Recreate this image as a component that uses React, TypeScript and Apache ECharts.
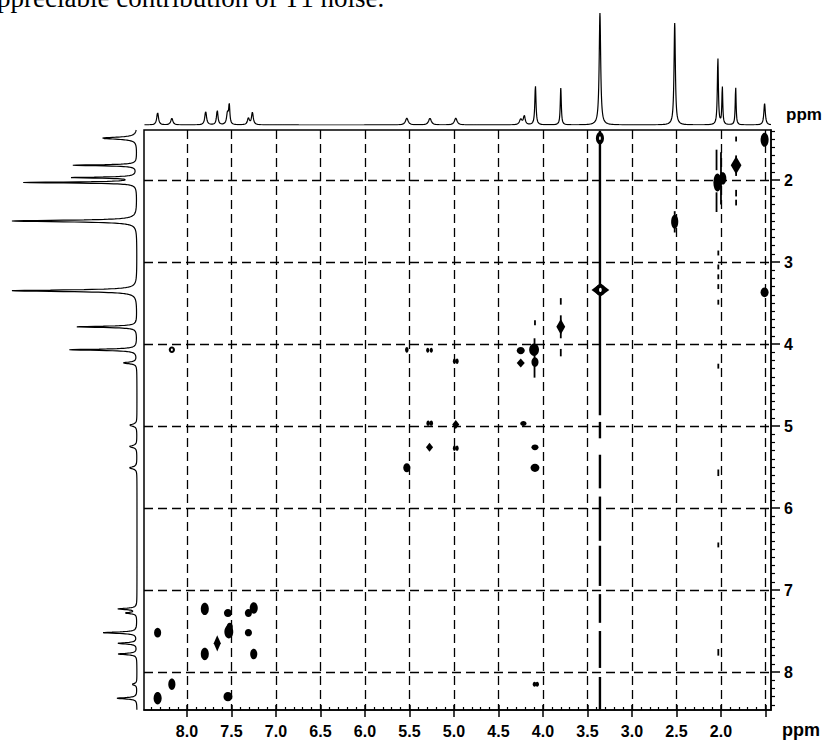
import React, { useEffect, useRef } from "react";
import * as echarts from "echarts";

// ---- axis ranges (ppm) ----
const X_MIN = 1.438;
const X_MAX = 8.483;
const Y_MIN = 1.39;
const Y_MAX = 8.463;

const xTickValues = [1.5, 2.0, 2.5, 3.0, 3.5, 4.0, 4.5, 5.0, 5.5, 6.0, 6.5, 7.0, 7.5, 8.0];
const xLabelValues = [2.0, 2.5, 3.0, 3.5, 4.0, 4.5, 5.0, 5.5, 6.0, 6.5, 7.0, 7.5, 8.0];
const yTickValues = [2, 3, 4, 5, 6, 7, 8];

// ---- 1D projections: [ppm, intensity (% of full scale), half width ppm] ----
const topPeaks: number[][] = [
  [8.33, 11, 0.012], [8.17, 6, 0.014], [7.79, 12, 0.012], [7.66, 13, 0.01],
  [7.545, 10, 0.012], [7.525, 17, 0.008], [7.31, 6, 0.012], [7.265, 11, 0.012],
  [5.53, 6, 0.018], [5.27, 6, 0.018], [4.98, 6, 0.018], [4.25, 5, 0.016],
  [4.21, 8, 0.012], [4.085, 35, 0.008], [3.8, 33, 0.007], [3.36, 100, 0.01],
  [2.52, 91, 0.009], [2.035, 60, 0.007], [1.985, 34, 0.006], [1.835, 34, 0.006],
  [1.51, 19, 0.01],
];

const leftPeaks: number[][] = [
  [1.49, 28, 0.015], [1.82, 51, 0.008], [1.97, 51, 0.008], [2.03, 90, 0.008],
  [2.5, 100, 0.012], [3.35, 100, 0.012], [3.79, 48, 0.009], [4.07, 54, 0.009],
  [4.23, 11, 0.012], [4.99, 6, 0.015], [5.25, 6, 0.015], [5.51, 6, 0.015],
  [7.23, 15, 0.01], [7.28, 9, 0.01], [7.52, 27, 0.01], [7.65, 15, 0.01],
  [7.78, 15, 0.01], [8.15, 4, 0.012], [8.32, 16, 0.01],
];

// ---- 2D cross peaks: [F2 ppm, F1 ppm, extent F2 ppm, extent F1 ppm] ----
const roundPeaks: number[][] = [
  [8.33, 7.52, 0.08, 0.12], [8.33, 8.32, 0.09, 0.15], [8.17, 8.15, 0.08, 0.14],
  [7.8, 7.23, 0.09, 0.15], [7.8, 7.78, 0.09, 0.15], [7.54, 7.28, 0.09, 0.1],
  [7.53, 7.51, 0.1, 0.16], [7.52, 7.45, 0.07, 0.1], [7.54, 8.3, 0.1, 0.11],
  [7.31, 7.28, 0.08, 0.1], [7.31, 7.52, 0.08, 0.09], [7.25, 7.22, 0.09, 0.14],
  [7.25, 7.78, 0.08, 0.13],
  [8.17, 4.07, 0.07, 0.08], [5.53, 4.07, 0.04, 0.07], [5.295, 4.075, 0.035, 0.06],
  [5.255, 4.075, 0.035, 0.06], [4.995, 4.21, 0.035, 0.065], [4.965, 4.21, 0.035, 0.065],
  [5.29, 4.965, 0.04, 0.065], [5.255, 4.965, 0.04, 0.065], [4.995, 5.27, 0.035, 0.065],
  [4.965, 5.27, 0.035, 0.065], [5.53, 5.51, 0.08, 0.11], [4.25, 4.08, 0.09, 0.09],
  [4.1, 4.07, 0.11, 0.15], [4.09, 4.22, 0.08, 0.12], [4.22, 4.97, 0.07, 0.06],
  [4.09, 5.26, 0.08, 0.07], [4.09, 5.51, 0.1, 0.1], [4.095, 8.15, 0.04, 0.06],
  [4.065, 8.15, 0.04, 0.06],
  [3.36, 1.49, 0.09, 0.15], [3.355, 3.34, 0.11, 0.14], [2.52, 2.51, 0.08, 0.17],
  [2.04, 2.03, 0.09, 0.22], [1.98, 1.98, 0.08, 0.15], [1.51, 1.51, 0.09, 0.17],
  [1.51, 3.37, 0.09, 0.12],
];

const diamondPeaks: number[][] = [
  [7.66, 7.65, 0.08, 0.2], [4.98, 4.98, 0.08, 0.11], [5.275, 5.26, 0.08, 0.11],
  [4.25, 4.23, 0.09, 0.11], [3.8, 3.79, 0.1, 0.19], [1.83, 1.82, 0.12, 0.22],
  [3.355, 3.34, 0.2, 0.16],
];

const holePeaks: number[][] = [
  [8.17, 4.07, 0.022, 0.03], [3.36, 1.49, 0.02, 0.045], [3.355, 3.34, 0.03, 0.05],
];

// ---- t1-noise streaks: [F2 ppm, F1 start, F1 end] ----
const mainStreak: number[][] = [
  [3.36, 1.4, 4.87], [3.36, 4.95, 5.15], [3.36, 5.35, 5.76], [3.36, 5.86, 6.4],
  [3.36, 6.46, 6.95], [3.36, 7.05, 7.4], [3.36, 7.5, 7.95], [3.36, 8.06, 8.46],
];

const minorStreaks: number[][] = [
  [2.05, 1.63, 1.88], [2.05, 2.15, 2.39], [2.0, 1.66, 2.3], [2.03, 2.86, 2.92],
  [2.03, 3.03, 3.09], [2.03, 3.15, 3.21], [2.03, 3.27, 3.33], [2.03, 3.46, 3.52],
  [2.03, 4.24, 4.3], [2.03, 5.53, 5.61], [2.03, 6.42, 6.48], [2.03, 7.72, 7.8],
  [1.83, 1.47, 1.53], [1.83, 2.12, 2.2], [1.83, 2.24, 2.31], [1.83, 1.7, 1.95],
  [3.8, 3.44, 3.52], [3.8, 4.06, 4.15], [3.8, 3.65, 3.93],
  [4.09, 3.71, 3.77], [4.095, 3.93, 4.41], [2.52, 2.38, 2.64],
];

function buildTrace(peaks: number[][], lo: number, hi: number, swap: boolean) {
  const pts: number[][] = [];
  const step = 0.002;
  for (let p = lo; p <= hi + 1e-9; p += step) {
    let s = 0;
    for (const [c, h, w] of peaks) s += (h * w * w) / (w * w + (p - c) * (p - c));
    pts.push(swap ? [s, p] : [p, s]);
  }
  return pts;
}

const BLACK = "#000";
const axisFont = { fontFamily: "Liberation Sans", fontWeight: "bold", fontSize: 16, color: BLACK };
const dashStyle = { color: BLACK, width: 1.3, type: [9, 5] };

export default function App() {
  const ref = useRef<HTMLDivElement>(null);
  useEffect(() => {
    if (!ref.current) return;
    const chart = echarts.init(ref.current, undefined, { renderer: "svg" });

    const blob = (kind: string) => (params: any, api: any) => {
      const c = api.coord([api.value(0), api.value(1)]);
      const s = api.size([api.value(2), api.value(3)]);
      const rx = s[0] / 2;
      const ry = s[1] / 2;
      if (kind === "diamond") {
        return {
          type: "polygon",
          shape: { points: [[c[0], c[1] - ry], [c[0] + rx, c[1]], [c[0], c[1] + ry], [c[0] - rx, c[1]]] },
          style: { fill: BLACK },
        };
      }
      return {
        type: "ellipse",
        shape: { cx: c[0], cy: c[1], rx, ry },
        style: { fill: kind === "hole" ? "#fff" : BLACK },
      };
    };

    const streak = (w: number) => (params: any, api: any) => {
      const a = api.coord([api.value(0), api.value(1)]);
      const b = api.coord([api.value(0), api.value(2)]);
      return {
        type: "rect",
        shape: { x: a[0] - w / 2, y: Math.min(a[1], b[1]), width: w, height: Math.abs(b[1] - a[1]) },
        style: { fill: BLACK },
      };
    };

    const fmtX = (v: number) => {
      const r = Math.round(v * 2) / 2;
      return Math.abs(v - r) < 1e-6 && v > 1.99 && v < 8.01 ? v.toFixed(1) : "";
    };
    const fmtY = (v: number) => {
      const r = Math.round(v);
      return Math.abs(v - r) < 1e-6 && r >= 2 && r <= 8 ? String(r) : "";
    };

    const option: any = {
      animation: false,
      backgroundColor: "#fff",
      grid: [
        { left: 144, top: 130, width: 627, height: 580, show: true, borderColor: BLACK, borderWidth: 1.5, backgroundColor: "transparent" },
        { left: 144, top: 13, width: 627, height: 112 },
        { left: 12, top: 130, width: 125, height: 580 },
      ],
      xAxis: [
        {
          type: "value", gridIndex: 0, position: "bottom", inverse: true, min: X_MIN, max: X_MAX,
          minInterval: 0.5, maxInterval: 0.5,
          axisLine: { show: true, lineStyle: { color: BLACK, width: 1.5 } },
          axisTick: { show: true, inside: false, length: 7, lineStyle: { color: BLACK, width: 1.5 }, customValues: xTickValues },
          axisLabel: { ...axisFont, margin: 13, customValues: xLabelValues, formatter: fmtX },
          splitLine: { show: true, lineStyle: dashStyle },
          minorTick: { show: false },
        },
        {
          type: "value", gridIndex: 0, position: "bottom", inverse: true, min: X_MIN, max: X_MAX,
          minInterval: 0.5, maxInterval: 0.5,
          axisLine: { show: false },
          axisTick: { show: true, inside: true, length: 5, lineStyle: { color: BLACK, width: 1.5 }, customValues: xTickValues },
          minorTick: { show: true, splitNumber: 5, length: 3, lineStyle: { color: BLACK, width: 1.2 } },
          axisLabel: { show: false },
          splitLine: { show: false },
        },
        { type: "value", gridIndex: 1, inverse: true, min: X_MIN, max: X_MAX, show: false },
        { type: "value", gridIndex: 2, inverse: true, min: 0, max: 100, show: false },
      ],
      yAxis: [
        {
          type: "value", gridIndex: 0, position: "right", inverse: true, min: Y_MIN, max: Y_MAX,
          minInterval: 1, maxInterval: 1,
          axisLine: { show: true, lineStyle: { color: BLACK, width: 1.5 } },
          axisTick: { show: true, inside: false, length: 9, lineStyle: { color: BLACK, width: 1.5 }, customValues: yTickValues },
          minorTick: { show: true, splitNumber: 10, length: 4, lineStyle: { color: BLACK, width: 1.2 } },
          axisLabel: { ...axisFont, margin: 13, customValues: yTickValues, formatter: fmtY },
          splitLine: { show: true, lineStyle: dashStyle },
        },
        { type: "value", gridIndex: 1, min: 0, max: 100, show: false },
        { type: "value", gridIndex: 2, inverse: true, min: Y_MIN, max: Y_MAX, show: false },
      ],
      graphic: [
        {
          type: "text", left: -3, top: -16, silent: true,
          style: { text: "ppreciable contribution of T1 noise.", font: '27px "Liberation Serif"', fill: BLACK },
        },
        {
          type: "text", left: 786, top: 106, silent: true,
          style: { text: "ppm", font: 'bold 17px "Liberation Sans"', fill: BLACK },
        },
        {
          type: "text", left: 782, top: 721, silent: true,
          style: { text: "ppm", font: 'bold 18px "Liberation Sans"', fill: BLACK },
        },
      ],
      series: [
        {
          type: "line", xAxisIndex: 2, yAxisIndex: 1, data: buildTrace(topPeaks, X_MIN, X_MAX, false),
          showSymbol: false, symbol: "none", lineStyle: { color: BLACK, width: 1.2 }, clip: true, silent: true,
        },
        {
          type: "line", xAxisIndex: 3, yAxisIndex: 2, data: buildTrace(leftPeaks, Y_MIN, Y_MAX, true),
          showSymbol: false, symbol: "none", lineStyle: { color: BLACK, width: 1.2 }, clip: true, silent: true,
        },
        {
          type: "custom", xAxisIndex: 0, yAxisIndex: 0, data: mainStreak, renderItem: streak(2.4),
          encode: { x: 0, y: [1, 2] }, clip: true, silent: true,
        },
        {
          type: "custom", xAxisIndex: 0, yAxisIndex: 0, data: minorStreaks, renderItem: streak(1.8),
          encode: { x: 0, y: [1, 2] }, clip: true, silent: true,
        },
        {
          type: "custom", xAxisIndex: 0, yAxisIndex: 0, data: diamondPeaks, renderItem: blob("diamond"),
          encode: { x: 0, y: 1 }, clip: true, silent: true,
        },
        {
          type: "custom", xAxisIndex: 0, yAxisIndex: 0, data: roundPeaks, renderItem: blob("round"),
          encode: { x: 0, y: 1 }, clip: true, silent: true,
        },
        {
          type: "custom", xAxisIndex: 0, yAxisIndex: 0, data: holePeaks, renderItem: blob("hole"),
          encode: { x: 0, y: 1 }, clip: true, silent: true,
        },
      ],
    };
    chart.setOption(option);
    return () => chart.dispose();
  }, []);

  return (
    <div
      ref={ref}
      style={{ position: "absolute", left: 0, top: 0, width: 826, height: 742, background: "#fff" }}
    />
  );
}
